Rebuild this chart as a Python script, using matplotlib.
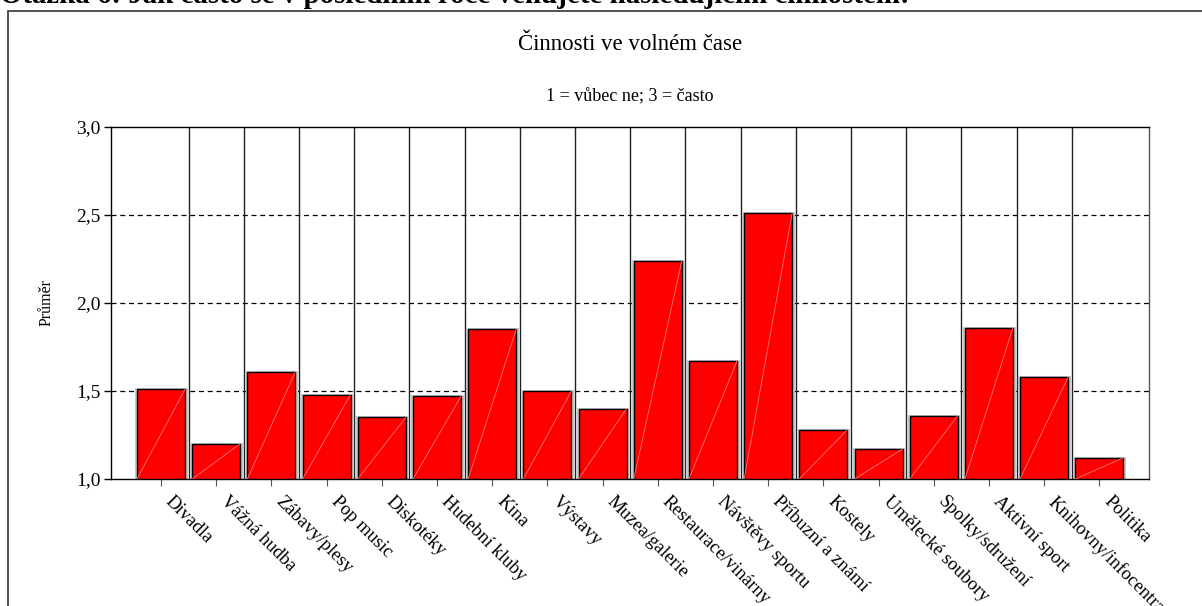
import matplotlib
matplotlib.use("Agg")
import matplotlib.pyplot as plt
import matplotlib.transforms as mtransforms
from matplotlib.patches import Rectangle

plt.rcParams['font.family'] = ['Liberation Serif', 'DejaVu Serif']

# data
categories = ["Divadla", "Vážná hudba", "Zábavy/plesy", "Pop music", "Diskotéky",
              "Hudební kluby", "Kina", "Výstavy", "Muzea/galerie", "Restaurace/vinárny",
              "Návštěvy sportu", "Příbuzní a známí", "Kostely", "Umělecké soubory",
              "Spolky/sdružení", "Aktivní sport", "Knihovny/infocentra", "Politika"]
means = [1.51, 1.20, 1.61, 1.48, 1.35, 1.47, 1.85, 1.50, 1.40, 2.24,
         1.67, 2.51, 1.28, 1.17, 1.36, 1.86, 1.58, 1.12]
yticks = [1.0, 1.5, 2.0, 2.5, 3.0]
ytick_labels = ["1,0", "1,5", "2,0", "2,5", "3,0"]

W, H = 1202, 606
fig = plt.figure(figsize=(W / 100, H / 100), dpi=100)

# question heading, clipped at the top of the page
fig.text(0.0, 1 - 3 / H, "Otázka 6: Jak často se v posledním roce věnujete následujícím činnostem:",
         fontsize=20.8, fontweight='bold', ha='left', va='baseline')

# outer frame
frame = Rectangle((8 / W, -0.1), 1.2, 1.1 - 11 / H, transform=fig.transFigure,
                  fill=False, edgecolor='#444444', linewidth=1.3)
fig.patches.append(frame)

ax = fig.add_axes([110.5 / W, 1 - 479 / H, (1149 - 110.5) / W, (479 - 127) / H])

x = list(range(len(categories)))
base = 1.0
width = 0.87

# dashed reference lines
for yv in yticks[1:-1]:
    ax.axhline(yv, color='black', linestyle=(0, (4, 3)), linewidth=0.9, zorder=1)

# separators between categories
for i in range(len(categories) - 1):
    ax.axvline(i + 0.5, color='#222222', linewidth=1.0, zorder=1)

heights = [m - base for m in means]
ax.bar(x, heights, bottom=base, width=width + 0.03, color='none',
       edgecolor='#c8c8c8', linewidth=2.2, zorder=2)
ax.bar(x, heights, bottom=base, width=width, color='#ff0000',
       edgecolor='black', linewidth=1.0, zorder=3)
# faint diagonal streak inside each bar
for xi, m in zip(x, means):
    ax.plot([xi - width / 2, xi + width / 2], [base, m], color='#ff7777',
            linewidth=0.6, zorder=4)

ax.set_xlim(-0.915, 17.9)
ax.set_ylim(1.0, 3.0)
ax.set_yticks(yticks)
ax.set_yticklabels(ytick_labels, fontsize=14)
ax.set_xticks(x)
ax.set_xticklabels([])
ax.tick_params(axis='x', length=5, width=0.8, color='#555555')
ax.tick_params(axis='y', length=5, width=1.0, color='black', pad=2)

# category labels, slanted, starting a bit right of each tick
lbl_trans = (mtransforms.blended_transform_factory(ax.transData, ax.transAxes)
             + mtransforms.ScaledTranslation(0.13, -0.14, fig.dpi_scale_trans))
for xi, name in zip(x, categories):
    ax.text(xi, 0, name, transform=lbl_trans, rotation=-45, rotation_mode='anchor',
            ha='left', va='top', fontsize=13.5, clip_on=False)

for s in ax.spines.values():
    s.set_linewidth(1.0)
    s.set_color('black')
ax.spines['right'].set_color('#555555')

ax.set_ylabel("Průměr", fontsize=11.5)
ax.yaxis.set_label_coords(-0.0534, 0.5)

cx = (110.5 + 1149) / 2 / W
fig.text(cx, 1 - 45 / H, "Činnosti ve volném čase", fontsize=16.5, ha='center', va='center')
fig.text(cx, 1 - 97 / H, "1 = vůbec ne; 3 = často", fontsize=13, ha='center', va='center')

fig.savefig("out.png", dpi=100)
